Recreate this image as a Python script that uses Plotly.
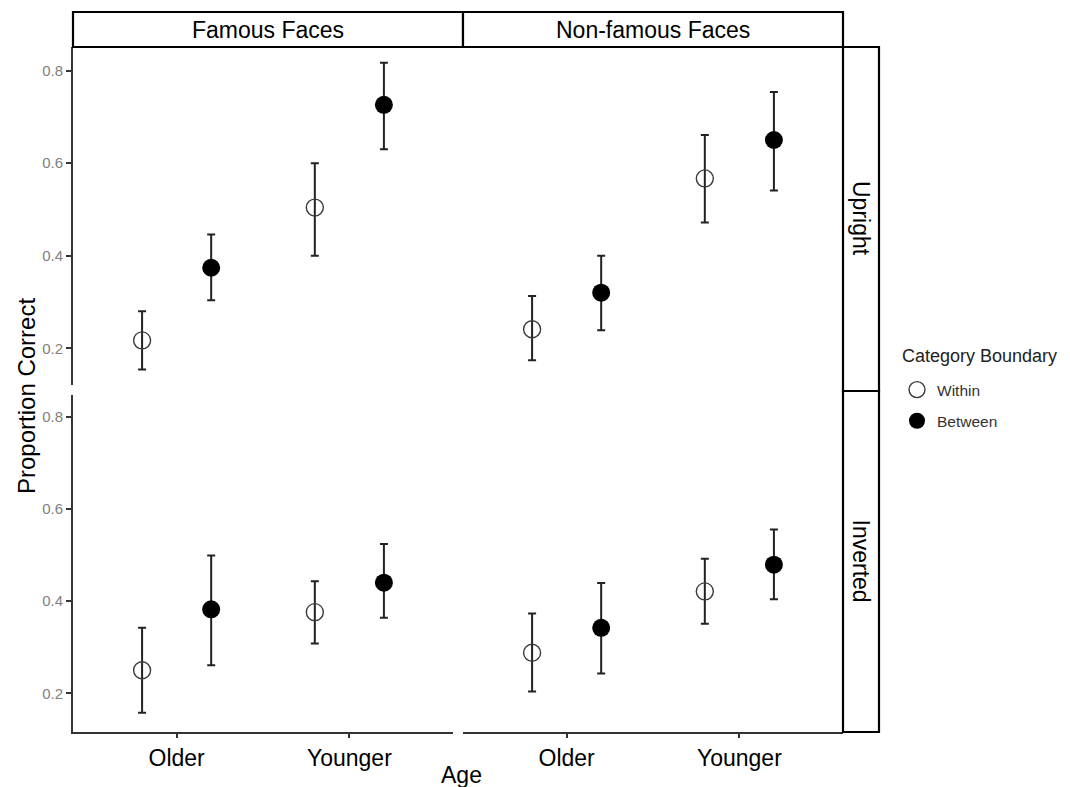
import plotly.graph_objects as go

# ---------------- data ----------------
ages = ["Older", "Younger"]
faces = ["Famous Faces", "Non-famous Faces"]
orientations = ["Upright", "Inverted"]
boundaries = ["Within", "Between"]

famous_upright_within = [0.217, 0.504]
famous_upright_within_lo = [0.154, 0.400]
famous_upright_within_hi = [0.280, 0.600]
famous_upright_between = [0.374, 0.726]
famous_upright_between_lo = [0.304, 0.630]
famous_upright_between_hi = [0.446, 0.817]

nonfamous_upright_within = [0.241, 0.567]
nonfamous_upright_within_lo = [0.174, 0.472]
nonfamous_upright_within_hi = [0.313, 0.661]
nonfamous_upright_between = [0.320, 0.650]
nonfamous_upright_between_lo = [0.239, 0.541]
nonfamous_upright_between_hi = [0.400, 0.754]

famous_inverted_within = [0.250, 0.376]
famous_inverted_within_lo = [0.158, 0.308]
famous_inverted_within_hi = [0.342, 0.443]
famous_inverted_between = [0.382, 0.440]
famous_inverted_between_lo = [0.261, 0.364]
famous_inverted_between_hi = [0.499, 0.524]

nonfamous_inverted_within = [0.288, 0.421]
nonfamous_inverted_within_lo = [0.204, 0.351]
nonfamous_inverted_within_hi = [0.373, 0.492]
nonfamous_inverted_between = [0.342, 0.479]
nonfamous_inverted_between_lo = [0.243, 0.404]
nonfamous_inverted_between_hi = [0.439, 0.555]

y_ticks = [0.2, 0.4, 0.6, 0.8]

panels = {
    ("Upright", "Famous Faces"): [
        (famous_upright_within, famous_upright_within_lo, famous_upright_within_hi),
        (famous_upright_between, famous_upright_between_lo, famous_upright_between_hi)],
    ("Upright", "Non-famous Faces"): [
        (nonfamous_upright_within, nonfamous_upright_within_lo, nonfamous_upright_within_hi),
        (nonfamous_upright_between, nonfamous_upright_between_lo, nonfamous_upright_between_hi)],
    ("Inverted", "Famous Faces"): [
        (famous_inverted_within, famous_inverted_within_lo, famous_inverted_within_hi),
        (famous_inverted_between, famous_inverted_between_lo, famous_inverted_between_hi)],
    ("Inverted", "Non-famous Faces"): [
        (nonfamous_inverted_within, nonfamous_inverted_within_lo, nonfamous_inverted_within_hi),
        (nonfamous_inverted_between, nonfamous_inverted_between_lo, nonfamous_inverted_between_hi)],
}

# ---------------- layout geometry ----------------
# page body has an 8px default margin; figure is sized to fill the rest of the window
OFF = 8
W, H = 1070 - OFF, 787 - OFF
FONT = "Liberation Sans, Arial, Helvetica, sans-serif"
def px(x): return (x - OFF) / W
def py(y): return 1 - (y - OFF) / H

x_domains = [[px(73), px(453)], [px(463), px(843)]]
y_domains = {"Upright": [py(385), py(47)], "Inverted": [py(732), py(395)]}
y_ranges = {"Upright": [0.1206, 0.851], "Inverted": [0.116, 0.847]}

fig = go.Figure()

styles = [
    dict(symbol="circle-open", size=17, color="#3a3a3a", line=dict(width=1.4, color="#3a3a3a")),
    dict(symbol="circle", size=18, color="black", line=dict(width=0, color="black")),
]

ax_i = 0
layout_axes = {}
for r, orient in enumerate(orientations):
    for c, face in enumerate(faces):
        ax_i += 1
        xa = "x" if ax_i == 1 else f"x{ax_i}"
        ya = "y" if ax_i == 1 else f"y{ax_i}"
        for b, (mean, lo, hi) in enumerate(panels[(orient, face)]):
            fig.add_trace(go.Scatter(
                x=ages, y=mean, mode="markers",
                name=boundaries[b], legendgroup=boundaries[b],
                showlegend=(ax_i == 1), offsetgroup=boundaries[b],
                marker=styles[b],
                error_y=dict(type="data", symmetric=False,
                             array=[h - m for h, m in zip(hi, mean)],
                             arrayminus=[m - l for m, l in zip(mean, lo)],
                             color="#222222", thickness=2, width=4),
                xaxis=xa, yaxis=ya, cliponaxis=False,
            ))
        bottom = (orient == "Inverted")
        left = (c == 0)
        layout_axes["xaxis" if ax_i == 1 else f"xaxis{ax_i}"] = dict(
            domain=x_domains[c], anchor=ya, type="category",
            categoryorder="array", categoryarray=ages,
            range=[-0.6, 1.6], showgrid=False, zeroline=False,
            showline=bottom, linecolor="#333333", linewidth=2,
            ticks="outside" if bottom else "", ticklen=4, tickwidth=1.5, tickcolor="#333333",
            showticklabels=bottom, tickfont=dict(family=FONT, size=23, color="black"),
        )
        layout_axes["yaxis" if ax_i == 1 else f"yaxis{ax_i}"] = dict(
            domain=y_domains[orient], anchor=xa, range=y_ranges[orient],
            tickvals=y_ticks, ticktext=[f"{v:.1f}" for v in y_ticks],
            showgrid=False, zeroline=False,
            showline=left, linecolor="#333333", linewidth=2,
            ticks="outside" if left else "", ticklen=5, tickwidth=1.5, tickcolor="#333333",
            showticklabels=left, tickfont=dict(family=FONT, size=15, color="#808080"),
        )

shapes = []
annotations = []
# column strips
col_x = [(73, 463), (463, 843)]
for (x0, x1), face in zip(col_x, faces):
    shapes.append(dict(type="rect", xref="paper", yref="paper",
                       x0=px(x0), x1=px(x1), y0=py(47), y1=py(12),
                       line=dict(color="black", width=2.2), fillcolor="white"))
    annotations.append(dict(text=face, xref="paper", yref="paper",
                            x=px((x0 + x1) / 2), y=py(29.5), showarrow=False,
                            xanchor="center", yanchor="middle",
                            font=dict(family=FONT, size=23, color="black")))
# row strips
row_y = [(47, 391), (391, 732)]
for (y0, y1), orient in zip(row_y, orientations):
    shapes.append(dict(type="rect", xref="paper", yref="paper",
                       x0=px(843), x1=px(879), y0=py(y1), y1=py(y0),
                       line=dict(color="black", width=2.2), fillcolor="white"))
    annotations.append(dict(text=orient, xref="paper", yref="paper",
                            x=px(861), y=py((y0 + y1) / 2), showarrow=False,
                            textangle=90, xanchor="center", yanchor="middle",
                            font=dict(family=FONT, size=23, color="black")))
# axis titles
annotations.append(dict(text="Proportion Correct", xref="paper", yref="paper",
                        x=px(27), y=py(396), showarrow=False, textangle=-90,
                        xanchor="center", yanchor="middle",
                        font=dict(family=FONT, size=24, color="black")))
annotations.append(dict(text="Age", xref="paper", yref="paper",
                        x=px(461), y=py(775), showarrow=False,
                        xanchor="center", yanchor="middle",
                        font=dict(family=FONT, size=23, color="black")))
# legend title
annotations.append(dict(text="Category Boundary", xref="paper", yref="paper",
                        x=px(900), y=py(356), showarrow=False,
                        xanchor="left", yanchor="middle",
                        font=dict(family=FONT, size=18, color="#222222")))

fig.update_layout(
    width=W, height=H,
    margin=dict(l=0, r=0, t=0, b=0),
    paper_bgcolor="white", plot_bgcolor="white",
    scattermode="group", scattergap=0.2,
    shapes=shapes, annotations=annotations,
    showlegend=True,
    legend=dict(x=px(897), y=py(373), xanchor="left", yanchor="top",
                font=dict(family=FONT, size=15.5, color="#333333"),
                tracegroupgap=8,
                bgcolor="rgba(0,0,0,0)", itemsizing="trace"),
    **layout_axes,
)

fig.write_html("out.html")
